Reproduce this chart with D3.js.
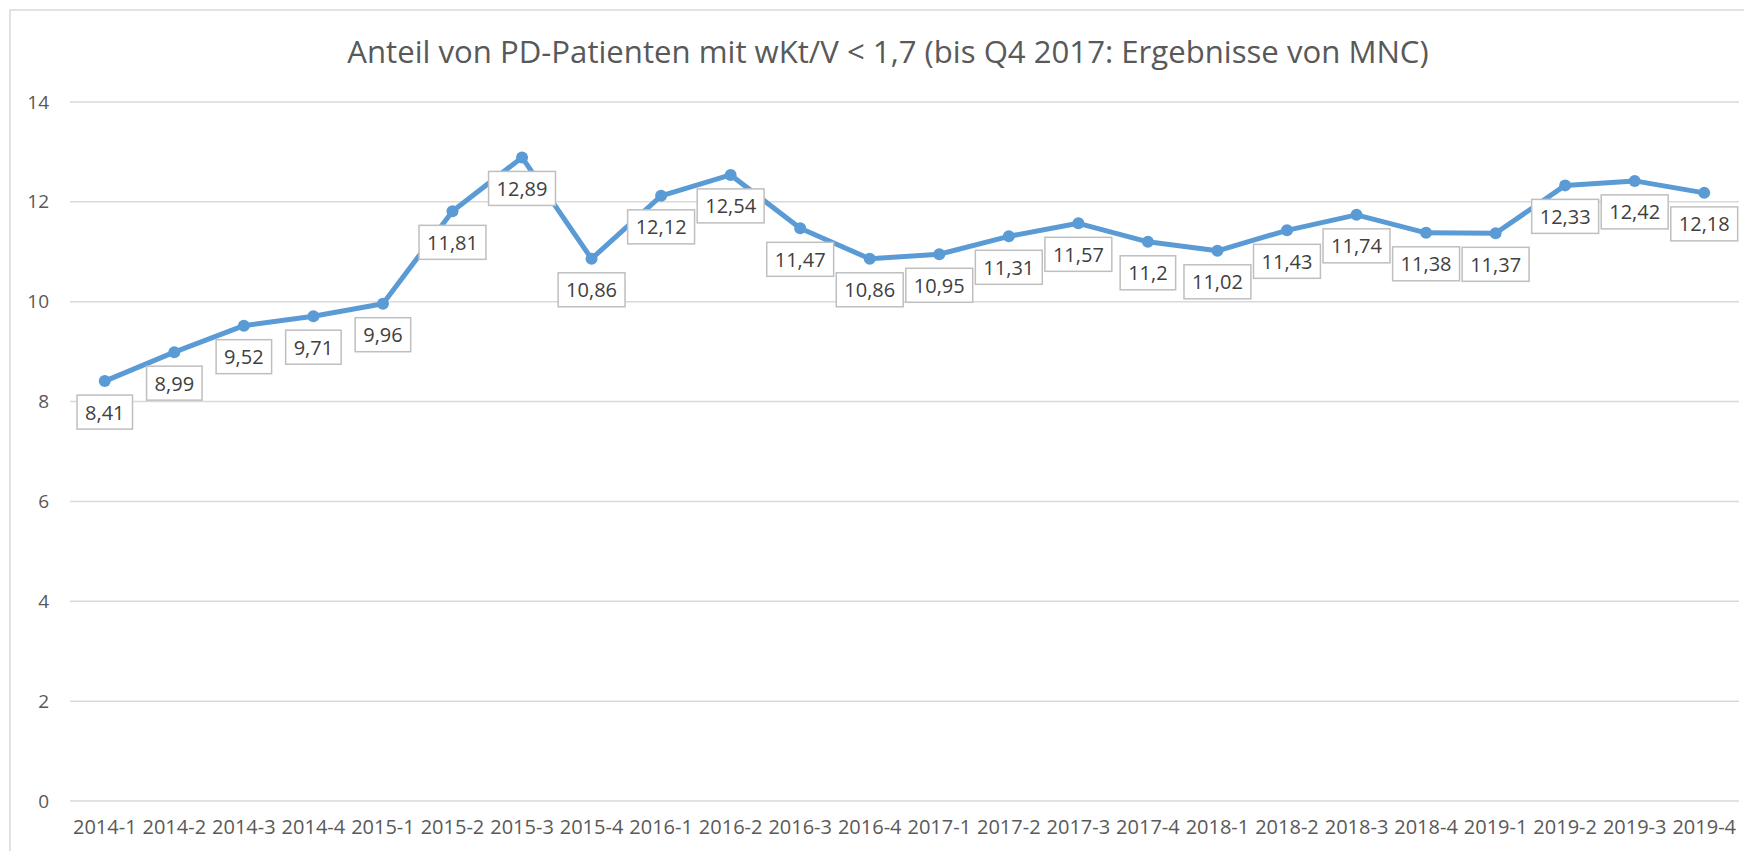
<!DOCTYPE html>
<html>
<head>
<meta charset="utf-8">
<script src="https://cdn.jsdelivr.net/npm/d3@7"></script>
<style>
  html, body { margin: 0; padding: 0; background: #ffffff; }
  svg { display: block; }
</style>
</head>
<body>
<svg id="chart" width="1744" height="851"></svg>
<script>
const titleText = "Anteil von PD-Patienten mit wKt/V < 1,7 (bis Q4 2017: Ergebnisse von MNC)";
const categories = ["2014-1","2014-2","2014-3","2014-4","2015-1","2015-2","2015-3","2015-4",
  "2016-1","2016-2","2016-3","2016-4","2017-1","2017-2","2017-3","2017-4",
  "2018-1","2018-2","2018-3","2018-4","2019-1","2019-2","2019-3","2019-4"];
const values = [8.41, 8.99, 9.52, 9.71, 9.96, 11.81, 12.89, 10.86,
  12.12, 12.54, 11.47, 10.86, 10.95, 11.31, 11.57, 11.2,
  11.02, 11.43, 11.74, 11.38, 11.37, 12.33, 12.42, 12.18];
const yTicks = [0, 2, 4, 6, 8, 10, 12, 14];

const fmt = v => String(v).replace(".", ",");
const svg = d3.select("#chart");
const font = "'Open Sans', 'DejaVu Sans', sans-serif";

// chart frame
svg.append("path")
  .attr("d", "M10,851 L10,10 L1744,10")
  .attr("fill", "none").attr("stroke", "#d9d9d9").attr("stroke-width", 1.5);

const plot = { left: 70, right: 1739, top: 102, bottom: 801 };
const x = d3.scaleBand().domain(categories).range([plot.left, plot.right]).padding(0);
const y = d3.scaleLinear().domain([0, 14]).range([plot.bottom, plot.top]);

// title
const title = svg.append("text")
  .attr("x", 888).attr("y", 63)
  .attr("text-anchor", "middle")
  .attr("font-family", font).attr("font-size", 30)
  .attr("fill", "#595959")
  .text(titleText);
const tw = title.node().getComputedTextLength();
title.attr("font-size", 30 * 1082 / tw);

// gridlines
svg.append("g").selectAll("line").data(yTicks).join("line")
  .attr("x1", plot.left).attr("x2", plot.right)
  .attr("y1", d => y(d)).attr("y2", d => y(d))
  .attr("stroke", "#d9d9d9").attr("stroke-width", 1.5);

// y axis
const yAxis = svg.append("g")
  .attr("transform", `translate(${plot.left - 21},0)`)
  .call(d3.axisLeft(y).tickValues(yTicks).tickSize(0).tickPadding(0).tickFormat(d => d));
yAxis.select(".domain").remove();
yAxis.selectAll("text")
  .attr("font-family", font).attr("font-size", 19).attr("fill", "#595959");

// x axis
const xAxis = svg.append("g")
  .attr("transform", `translate(0,${plot.bottom})`)
  .call(d3.axisBottom(x).tickSize(0).tickPadding(19));
xAxis.select(".domain").remove();
xAxis.selectAll("text")
  .attr("font-family", font).attr("font-size", 20).attr("fill", "#595959");

const cx = (d, i) => x(categories[i]) + x.bandwidth() / 2;

// line
const line = d3.line()
  .x((d, i) => cx(d, i))
  .y(d => y(d));
svg.append("path")
  .datum(values)
  .attr("d", line)
  .attr("fill", "none")
  .attr("stroke", "#5b9bd5")
  .attr("stroke-width", 5)
  .attr("stroke-linejoin", "round");

// markers
svg.append("g").selectAll("circle").data(values).join("circle")
  .attr("cx", (d, i) => cx(d, i))
  .attr("cy", d => y(d))
  .attr("r", 6)
  .attr("fill", "#5b9bd5");

// data labels
const lbl = svg.append("g").selectAll("g").data(values).join("g")
  .attr("transform", (d, i) => `translate(${cx(d, i)},${y(d) + 31})`);
const rects = lbl.append("rect");
const texts = lbl.append("text")
  .attr("text-anchor", "middle")
  .attr("dominant-baseline", "central")
  .attr("font-family", font).attr("font-size", 20)
  .attr("fill", "#404040")
  .text(d => fmt(d));
texts.each(function() {
  const w = this.getComputedTextLength();
  d3.select(this.parentNode).select("rect")
    .attr("x", -w / 2 - 8).attr("y", -17)
    .attr("width", w + 16).attr("height", 34)
    .attr("fill", "#ffffff")
    .attr("stroke", "#bfbfbf").attr("stroke-width", 1.5);
});
</script>
</body>
</html>
